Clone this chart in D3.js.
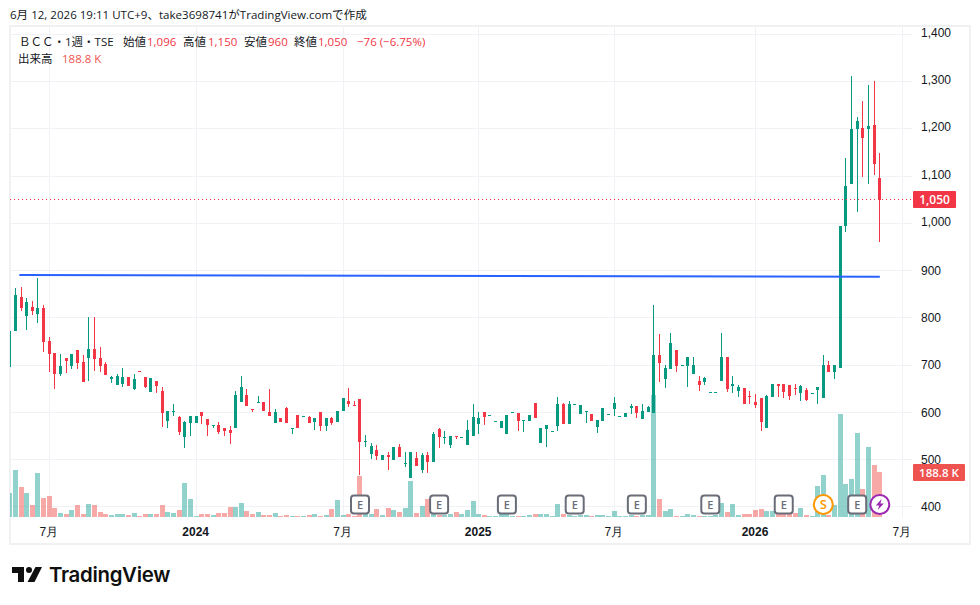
<!DOCTYPE html>
<html lang="ja">
<head>
<meta charset="utf-8">
<title>BCC 1週</title>
<style>
    html, body { margin: 0; padding: 0; background: #fff; }
    svg { display: block; font-family: "Open Sans", "Noto Sans CJK JP", sans-serif; }
    .axis path, .axis line { display: none; }
    .axis text { fill: #131722; font-size: 12px; }
    .grid line { stroke: #f1f2f5; stroke-width: 1; shape-rendering: crispEdges; }
    .bar, .wick, .body { shape-rendering: crispEdges; }
</style>
</head>
<body>
<svg id="chart" width="980" height="605"></svg>
<script src="https://cdn.jsdelivr.net/npm/d3@7"></script>
<script>
const opens = [
    695,772,844,804,823,808,821,751,725,681,
    715,698,732,707,715,734,715,702,671,658,
    660,675,649,687,675,643,666,645,582,601,
    590,548,577,577,601,586,571,573,567,563,
    567,622,637,607,620,622,601,577,588,609,
    565,594,590,590,580,601,571,588,580,603,
    624,616,628,537,512,520,499,510,499,527,
    491,461,503,478,510,495,565,546,531,550,
    546,531,550,575,601,592,580,567,554,599,
    599,582,582,620,535,565,558,571,618,575,
    616,596,601,596,569,582,594,607,590,590,
    609,613,586,601,599,721,671,692,732,698,
    698,681,666,664,641,641,666,717,656,645,
    651,635,622,630,567,632,660,660,658,651,
    641,647,639,647,630,700,685,694,994,1083,
    1200,1202,1200,1208,1096];
const highs = [
    772,863,865,842,836,884,827,759,725,723,
    715,723,732,721,802,802,738,707,677,681,
    694,675,681,687,675,673,666,654,603,618,
    592,581,592,592,601,586,573,579,567,571,
    645,677,649,607,635,622,649,607,588,611,
    567,594,592,592,588,601,588,590,603,630,
    651,624,628,552,535,531,510,516,527,533,
    516,516,516,514,516,558,567,560,550,550,
    548,584,618,601,601,594,582,582,594,601,
    599,584,594,620,567,573,560,632,620,624,
    618,616,603,596,584,609,596,632,592,599,
    618,613,618,613,827,766,700,768,732,700,
    717,717,677,675,643,643,768,717,677,658,
    651,645,639,630,637,660,660,660,658,660,
    658,651,641,654,721,709,700,994,1138,1312,
    1225,1259,1293,1301,1150];
const lows = [
    695,772,815,774,806,789,728,685,649,677,
    683,692,692,664,666,687,685,679,662,658,
    654,656,647,685,651,643,641,569,567,592,
    552,524,550,577,575,550,567,554,550,533,
    567,622,613,601,620,603,592,577,580,577,
    554,567,590,577,563,560,560,573,580,603,
    611,613,467,527,501,499,499,478,499,505,
    484,461,486,472,472,495,524,533,524,544,
    546,531,550,554,573,592,580,567,554,599,
    560,558,582,588,535,527,558,560,575,575,
    616,596,577,582,556,582,594,592,590,590,
    596,588,586,601,599,664,652,692,685,698,
    654,681,645,658,641,641,666,643,641,632,
    618,618,609,560,567,632,632,630,626,637,
    624,624,639,618,630,685,671,694,982,1083,
    1024,1098,1083,1102,960];
const closes = [
    772,848,821,833,815,821,749,723,681,698,
    709,723,704,664,734,713,698,679,675,678,
    675,656,671,685,654,673,656,598,603,603,
    558,579,592,592,592,573,573,558,560,556,
    637,654,613,605,622,603,592,601,580,577,
    567,567,592,577,588,571,588,577,603,630,
    618,613,537,539,529,508,510,505,527,505,
    493,516,486,510,495,554,548,548,550,548,
    548,563,590,588,590,594,582,582,594,601,
    582,584,594,588,567,573,560,618,575,618,
    618,616,603,582,584,609,596,620,592,599,
    613,599,603,611,721,704,694,747,698,700,
    717,700,658,673,643,643,717,649,660,654,
    618,632,615,579,635,660,656,643,635,649,
    656,626,641,654,700,685,700,994,1079,1200,
    1217,1181,1206,1126,1050];
// volume in thousands of shares
const volumes = [
    101,197,126,101,50,185,80,88,38,17,
    13,29,50,13,55,50,21,13,8,13,
    13,8,17,4,13,13,13,50,21,17,
    29,143,76,4,13,13,8,17,17,42,
    42,59,25,13,21,8,8,17,4,8,
    4,4,4,8,13,4,8,34,71,8,
    13,4,172,13,13,34,8,38,29,21,
    38,151,17,46,76,13,8,8,13,21,
    13,29,67,13,8,4,4,13,13,4,
    4,4,8,13,13,13,4,55,13,8,
    4,8,8,4,8,8,4,25,4,4,
    8,4,8,8,512,76,25,34,4,4,
    13,8,4,4,4,8,59,21,55,8,
    13,13,29,34,25,25,13,13,13,17,
    38,8,4,130,176,8,50,433,139,160,
    353,118,294,218,188.8];

const priceTicks = [400,500,600,700,800,900,1000,1100,1200,1300,1400];
const timeTicks = [7,33,59,83,107,132,158];
const timeLabels = ['7月','2024','7月','2025','7月','2026','7月'];
const trendIndex = [1.7,154];
const trendPrice = [890.7,887.1];
const earnings = [62,76,88,100,111,124,137,150];
const splitBar = 144;
const newsBar = 154;

const UP = '#089981', DOWN = '#f23645';
const VOL_UP = '#26a69a', VOL_DOWN = '#ef5350';
const TEXT = '#131722';

let svg = d3.select('#chart');

let x = d3.scaleLinear().domain([0,158]).range([9.7,902.4]);
let y = d3.scaleLinear().domain([400,1400]).range([506.8,34.5]);
let yVol = d3.scaleLinear().domain([0,512]).range([517,395]);

// frame round the chart
svg.append('rect')
    .attr('x',10).attr('y',26).attr('width',960).attr('height',518)
    .attr('fill','none').attr('stroke','#f0f1f3').attr('stroke-width',2);

// grid
let grid = svg.append('g').attr('class','grid');
grid.selectAll('.h').data(priceTicks).enter().append('line')
    .attr('x1',10).attr('x2',912)
    .attr('y1',d => Math.floor(y(d))+0.5).attr('y2',d => Math.floor(y(d))+0.5);
grid.selectAll('.v').data(timeTicks).enter().append('line')
    .attr('x1',d => Math.floor(x(d))+0.5).attr('x2',d => Math.floor(x(d))+0.5)
    .attr('y1',26).attr('y2',517);

svg.append('defs').append('clipPath').attr('id','pane')
    .append('rect').attr('x',10).attr('y',26).attr('width',902).attr('height',491);

let pane = svg.append('g').attr('clip-path','url(#pane)');
let bars = d3.range(closes.length);
let isUp = i => closes[i] >= opens[i];

// volume first, candles sit on top of it
pane.append('g').selectAll('rect').data(bars).enter().append('rect')
    .attr('class','bar')
    .attr('x',i => Math.floor(x(i))-2)
    .attr('width',5)
    .attr('y',i => Math.round(yVol(volumes[i])))
    .attr('height',i => Math.round(yVol(0))-Math.round(yVol(volumes[i])))
    .attr('fill',i => isUp(i) ? VOL_UP : VOL_DOWN)
    .attr('fill-opacity',0.5);

pane.append('g').selectAll('rect').data(bars).enter().append('rect')
    .attr('class','wick')
    .attr('x',i => Math.floor(x(i)))
    .attr('width',1)
    .attr('y',i => Math.round(y(highs[i])))
    .attr('height',i => Math.max(1,Math.round(y(lows[i]))-Math.round(y(highs[i]))))
    .attr('fill',i => isUp(i) ? UP : DOWN);

pane.append('g').selectAll('rect').data(bars).enter().append('rect')
    .attr('class','body')
    .attr('x',i => Math.floor(x(i))-1)
    .attr('width',3)
    .attr('y',i => Math.round(y(Math.max(opens[i],closes[i]))))
    .attr('height',i => Math.max(1,Math.round(y(Math.min(opens[i],closes[i])))-Math.round(y(Math.max(opens[i],closes[i])))))
    .attr('fill',i => isUp(i) ? UP : DOWN);

// hand drawn trend line
let trend = d3.line().x(d => x(d)).y((d,i) => y(trendPrice[i]));
svg.append('path')
    .attr('d',trend(trendIndex))
    .attr('fill','none').attr('stroke','#2962ff').attr('stroke-width',2);

// last price
let last = closes.length-1;
let lastY = Math.floor(y(closes[last]));
svg.append('line')
    .attr('x1',10).attr('x2',912)
    .attr('y1',lastY+0.5).attr('y2',lastY+0.5)
    .attr('stroke',DOWN).attr('stroke-dasharray','1,3');

// event badges
let badges = svg.append('g');
let badgeY = 504.5;
let eBadge = badges.selectAll('.e').data(earnings).enter().append('g')
    .attr('transform',d => `translate(${x(d)},${badgeY})`);
eBadge.append('rect')
    .attr('x',-9).attr('y',-9).attr('width',18).attr('height',18).attr('rx',3)
    .attr('fill','#fff').attr('stroke','#6a6d78').attr('stroke-width',2);
eBadge.append('text')
    .attr('text-anchor','middle').attr('y',4)
    .attr('font-size',11).attr('font-weight',600).attr('fill','#6a6d78')
    .text('E');

let split = badges.append('g').attr('transform',`translate(${x(splitBar)},${badgeY})`);
split.append('circle').attr('r',9.5)
    .attr('fill','#fff').attr('stroke','#ff9800').attr('stroke-width',2);
split.append('text')
    .attr('text-anchor','middle').attr('y',4.5)
    .attr('font-size',13).attr('font-weight',600).attr('fill','#ff9800')
    .text('S');

let news = badges.append('g').attr('transform',`translate(${x(newsBar)},${badgeY})`);
news.append('circle').attr('r',9.5)
    .attr('fill','#fff').attr('stroke','#9c27b0').attr('stroke-width',2);
news.append('path')
    .attr('d','M1.8,-5.5 L-4,1 L-0.6,1 L-2,5.5 L4,-1 L0.6,-1 Z')
    .attr('fill','#9c27b0');

// axes
let priceAxis = svg.append('g').attr('class','axis')
    .attr('transform','translate(912,0)')
    .call(d3.axisRight(y).tickValues(priceTicks).tickSize(0).tickPadding(9).tickFormat(d3.format(',')));
// the labels with a comma sit a little higher on this scale
priceAxis.selectAll('text').attr('y',d => d >= 1000 ? -2 : 0);

let timeAxis = svg.append('g').attr('class','axis')
    .attr('transform','translate(-1,517)')
    .call(d3.axisBottom(x).tickValues(timeTicks).tickSize(0).tickPadding(10)
        .tickFormat((d,i) => timeLabels[i]));
timeAxis.selectAll('text').attr('font-weight',(d,i) => timeLabels[i].endsWith('月') ? 400 : 600);

// value tags on the price scale
svg.append('rect')
    .attr('x',913).attr('y',lastY-8).attr('width',43).attr('height',17).attr('rx',1)
    .attr('fill',DOWN);
svg.append('text')
    .attr('x',934.5).attr('y',lastY+4.5).attr('text-anchor','middle')
    .attr('fill','#fff').attr('font-size',12).attr('font-weight',600)
    .text(d3.format(',')(closes[last]));
svg.append('rect')
    .attr('x',913).attr('y',464).attr('width',52).attr('height',17).attr('rx',1)
    .attr('fill',VOL_DOWN);
svg.append('text')
    .attr('x',939).attr('y',477).attr('text-anchor','middle')
    .attr('fill','#fff').attr('font-size',11.5).attr('font-weight',600)
    .text(volumes[last]+' K');

// header and legend
svg.append('text').attr('x',10).attr('y',19)
    .attr('font-size',11.55).attr('fill',TEXT)
    .text('6月 12, 2026 19:11 UTC+9、take3698741がTradingView.comで作成');

let legendRow = (px, py, str, color) => svg.append('text')
    .attr('x',px).attr('y',py).attr('font-size',11.5).attr('fill',color).text(str);
legendRow(19,46,'ＢＣＣ・1週・TSE',TEXT);
legendRow(123,46,'始値',TEXT);
legendRow(147,46,d3.format(',')(opens[last]),DOWN);
legendRow(183,46,'高値',TEXT);
legendRow(208,46,d3.format(',')(highs[last]),DOWN);
legendRow(244,46,'安値',TEXT);
legendRow(268,46,d3.format(',')(lows[last]),DOWN);
legendRow(294,46,'終値',TEXT);
legendRow(318,46,d3.format(',')(closes[last]),DOWN);
legendRow(357,46,'−76 (−6.75%)',DOWN);
legendRow(18,63,'出来高',TEXT);
legendRow(62,63,volumes[last]+' K',VOL_DOWN);

// logo
let logo = svg.append('g').attr('fill','#0f0f0f');
logo.append('path').attr('d','M12,567 H24 V582 H18 V573 H12 Z');
logo.append('circle').attr('cx',29).attr('cy',570).attr('r',3);
logo.append('path').attr('d','M35.5,567 H42 L34.5,582 H27.5 Z');
logo.append('text').attr('x',49).attr('y',581.5)
    .attr('font-family','Inter, sans-serif').attr('font-size',20.4).attr('font-weight',600)
    .attr('letter-spacing',-0.3)
    .text('TradingView');
</script>
</body>
</html>
